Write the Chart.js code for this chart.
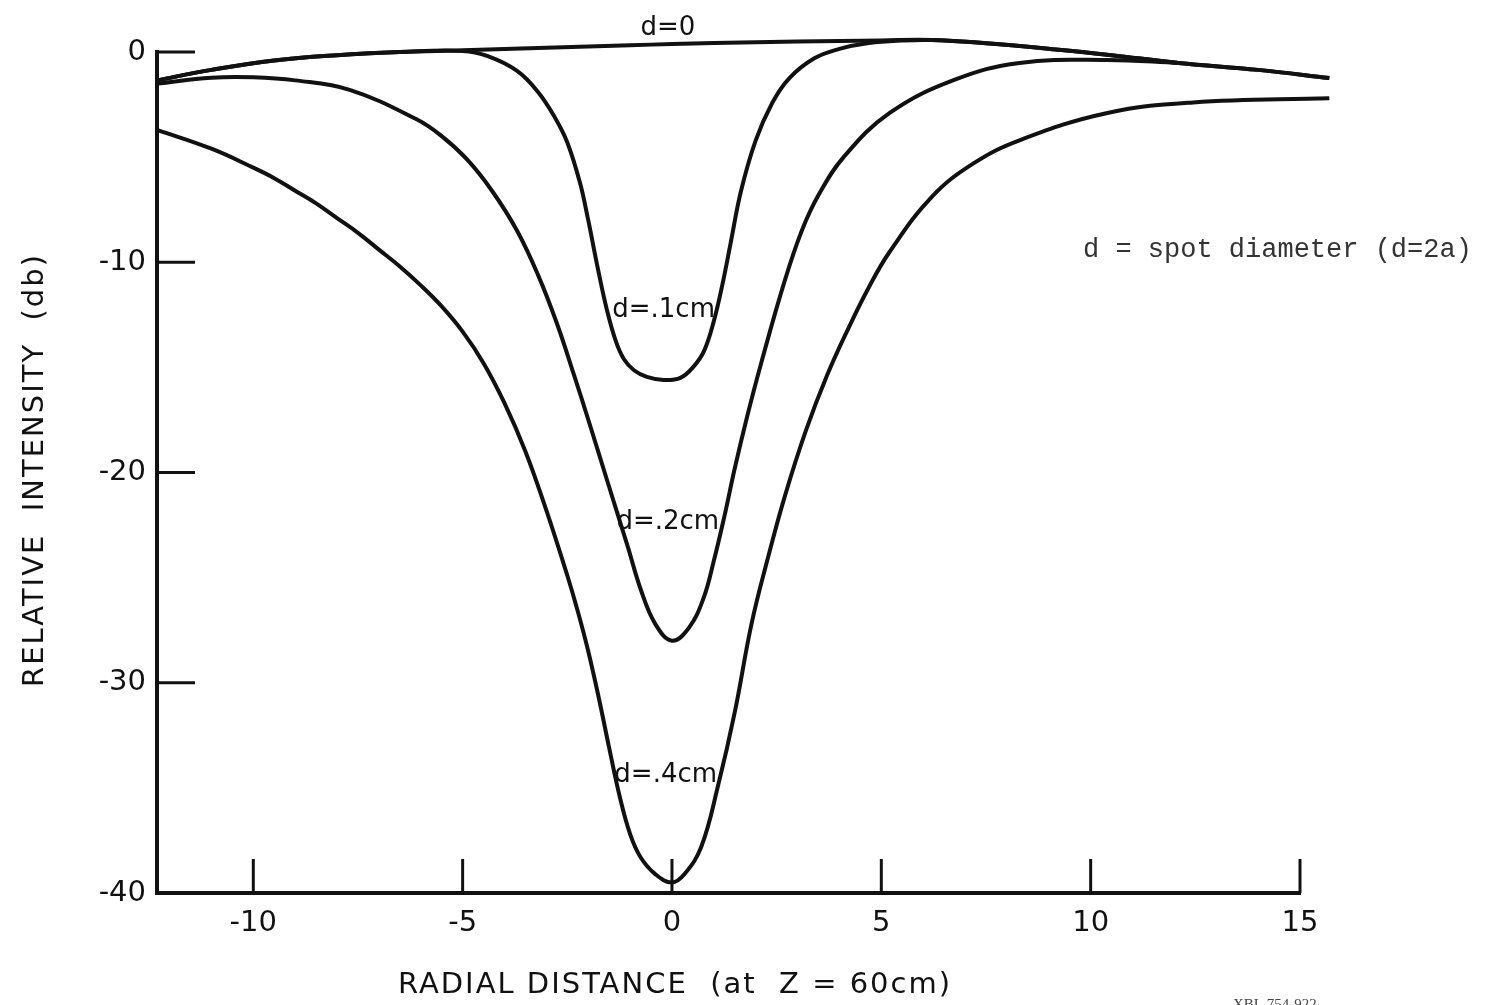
<!DOCTYPE html>
<html>
<head>
<meta charset="utf-8">
<title>Relative intensity vs radial distance</title>
<script src="https://cdn.jsdelivr.net/npm/chart.js@4.4.1/dist/chart.umd.min.js"></script>
<style>
    html, body { margin: 0; padding: 0; background: #fff; }
    canvas { display: block; }
</style>
</head>
<body>
<canvas id="intensityChart" width="1485" height="1005"></canvas>
<script>
// axis ticks
var xTicks = [-10, -5, 0, 5, 10, 15];
var yTicks = [0, -10, -20, -30, -40];

// d=0
var d0X = [-12.3, -11, -9.5, -8, -6.5, -5, -3, -1, 0, 1, 3, 5, 6.2, 7.5, 9.3, 10.5, 12.1, 14, 15.7];
var d0Y = [-1.35, -0.85, -0.4, -0.15, 0, 0.08, 0.2, 0.32, 0.38, 0.43, 0.5, 0.55, 0.57, 0.42, 0.1, -0.15, -0.52, -0.85, -1.24];

// d=.1cm
var d1X = [-12.3, -11, -9.5, -8, -6.5, -5, -4.4, -3.7, -3.2, -2.8, -2.5, -2.2, -2.0, -1.77, -1.55, -1.35, -1.15, -0.9, -0.6, -0.2, 0.2, 0.5, 0.77, 1.0, 1.2, 1.4, 1.65, 2.0, 2.4, 2.8, 3.4, 4.0, 4.7, 5.5, 6.2, 7.5, 9.3, 10.5, 12.1, 14, 15.7];
var d1Y = [-1.35, -0.85, -0.4, -0.15, 0, 0.05, -0.2, -0.9, -1.9, -3.1, -4.3, -6.2, -8.0, -10.3, -12.3, -13.7, -14.6, -15.15, -15.45, -15.6, -15.5, -15.0, -14.2, -12.8, -11.1, -9.1, -6.6, -4.2, -2.4, -1.25, -0.3, 0.15, 0.43, 0.55, 0.57, 0.42, 0.1, -0.15, -0.52, -0.85, -1.24];

// d=.2cm
var d2X = [-12.3, -11, -10, -9, -7.7, -6.1, -5.5, -4.9, -4.3, -3.7, -3.2, -2.75, -2.35, -1.95, -1.53, -1.06, -0.74, -0.4, 0, 0.4, 0.75, 1.0, 1.25, 1.5, 1.8, 2.13, 2.69, 3.1, 3.5, 4.1, 5.2, 6.74, 8.3, 10.4, 12.1];
var d2Y = [-1.5, -1.22, -1.2, -1.35, -1.8, -3.2, -4.0, -5.1, -6.6, -8.5, -10.6, -12.9, -15.3, -17.8, -20.5, -23.5, -25.6, -27.2, -28.0, -27.4, -26.0, -24.2, -22.1, -19.8, -17.3, -14.8, -10.9, -8.5, -6.8, -5.0, -2.9, -1.33, -0.52, -0.38, -0.52];

// d=.4cm
var d4X = [-12.3, -11, -10, -9.5, -9, -8.5, -8, -7.5, -7, -6.5, -6, -5.5, -5, -4.5, -4, -3.5, -3, -2.5, -2.25, -2, -1.75, -1.5, -1.25, -1.0, -0.75, -0.4, 0, 0.3, 0.7, 1.1, 1.5, 1.9, 2.3, 2.7, 3.2, 3.7, 4.2, 4.7, 5.2, 6.2, 7.2, 8.3, 10.4, 12.45, 15.7];
var d4Y = [-3.7, -4.6, -5.5, -6.0, -6.6, -7.2, -7.9, -8.6, -9.4, -10.2, -11.1, -12.1, -13.3, -14.8, -16.7, -19.0, -21.8, -24.9, -26.6, -28.5, -30.7, -33.1, -35.4, -37.2, -38.3, -39.1, -39.5, -39.1, -37.8, -34.9, -31.4, -27.2, -24.0, -21.1, -18.0, -15.4, -13.2, -11.2, -9.5, -6.9, -5.3, -4.2, -2.9, -2.4, -2.2];

var seriesNames = ["d=0", "d=.1cm", "d=.2cm", "d=.4cm"];
var seriesX = [d0X, d1X, d2X, d4X];
var seriesY = [d0Y, d1Y, d2Y, d4Y];

// where each curve label sits (data units)
var labelAt = [
    { x: -0.1, y: 1.15 },
    { x: -0.2, y: -12.3 },
    { x: -0.1, y: -22.35 },
    { x: -0.15, y: -34.4 }
];

var INK = "#111";
var FONT = "'DejaVu Sans', sans-serif";

function toPoints(xs, ys) {
    return xs.map(function (x, i) {
        return { x: x, y: ys[i] };
    });
}

var inkPlugin = {
    id: "ink",
    beforeDraw: function (chart) {
        var ctx = chart.ctx;
        ctx.save();
        ctx.fillStyle = "#fff";
        ctx.fillRect(0, 0, chart.width, chart.height);
        ctx.restore();
    },
    afterDraw: function (chart) {
        var ctx = chart.ctx;
        var xs = chart.scales.x;
        var ys = chart.scales.y;
        var area = chart.chartArea;
        ctx.save();
        ctx.strokeStyle = INK;
        ctx.lineWidth = 3;

        // ticks point into the plot
        yTicks.forEach(function (v) {
            if (v === ys.min) return;
            var py = ys.getPixelForValue(v);
            ctx.beginPath();
            ctx.moveTo(area.left, py);
            ctx.lineTo(area.left + 38, py);
            ctx.stroke();
        });
        xTicks.forEach(function (v) {
            var px = xs.getPixelForValue(v);
            ctx.beginPath();
            ctx.moveTo(px, area.bottom);
            ctx.lineTo(px, area.bottom - 34);
            ctx.stroke();
        });

        // curve labels
        ctx.fillStyle = INK;
        ctx.font = "26px " + FONT;
        ctx.textAlign = "center";
        ctx.textBaseline = "middle";
        seriesNames.forEach(function (name, i) {
            ctx.fillText(
                name,
                xs.getPixelForValue(labelAt[i].x),
                ys.getPixelForValue(labelAt[i].y)
            );
        });

        // axis titles, spaced out like the lettering guide
        ctx.font = "29px " + FONT;
        if ("letterSpacing" in ctx) ctx.letterSpacing = "2px";
        ctx.fillText("RADIAL DISTANCE  (at  Z = 60cm)", 675, 985);
        ctx.save();
        ctx.translate(35, 470);
        ctx.rotate(-Math.PI / 2);
        ctx.fillText("RELATIVE  INTENSITY  (db)", 0, 0);
        ctx.restore();
        if ("letterSpacing" in ctx) ctx.letterSpacing = "0px";

        // note on the right
        ctx.fillStyle = "#333";
        ctx.font = "27px 'Liberation Mono', monospace";
        ctx.textAlign = "left";
        ctx.fillText("d = spot diameter (d=2a)", 1083, 250);

        // plate number, cut at the bottom edge
        ctx.fillStyle = "#444";
        ctx.font = "15px 'Liberation Serif', serif";
        ctx.textBaseline = "alphabetic";
        ctx.fillText("XBL 754-922", 1233, 1009);
        ctx.restore();
    }
};

var ctx = document.getElementById("intensityChart");
var intensityChart = new Chart(ctx, {
    type: "line",
    data: {
        datasets: seriesNames.map(function (name, i) {
            return {
                label: name,
                data: toPoints(seriesX[i], seriesY[i]),
                borderColor: INK,
                borderWidth: 4,
                pointRadius: 0,
                fill: false,
                clip: false,
                tension: 0.4
            };
        })
    },
    options: {
        responsive: false,
        animation: false,
        devicePixelRatio: 1,
        layout: {
            padding: { top: 52, right: 185, left: 0, bottom: 0 }
        },
        plugins: {
            legend: { display: false },
            tooltip: { enabled: false }
        },
        scales: {
            x: {
                type: "linear",
                min: -12.3,
                max: 15,
                afterFit: function (scale) {
                    scale.height = 112;
                },
                afterBuildTicks: function (scale) {
                    scale.ticks = xTicks.map(function (v) {
                        return { value: v };
                    });
                },
                grid: { display: true, drawOnChartArea: false, drawTicks: false },
                border: { display: true, color: INK, width: 4 },
                ticks: {
                    color: INK,
                    padding: 13,
                    maxRotation: 0,
                    font: { family: FONT, size: 29 }
                }
            },
            y: {
                type: "linear",
                min: -40,
                max: 0,
                afterFit: function (scale) {
                    scale.width = 157;
                },
                afterBuildTicks: function (scale) {
                    scale.ticks = yTicks.map(function (v) {
                        return { value: v };
                    });
                },
                grid: { display: true, drawOnChartArea: false, drawTicks: false },
                border: { display: true, color: INK, width: 4 },
                ticks: {
                    color: INK,
                    padding: 11,
                    font: { family: FONT, size: 29 }
                }
            }
        }
    },
    plugins: [inkPlugin]
});
</script>
</body>
</html>
